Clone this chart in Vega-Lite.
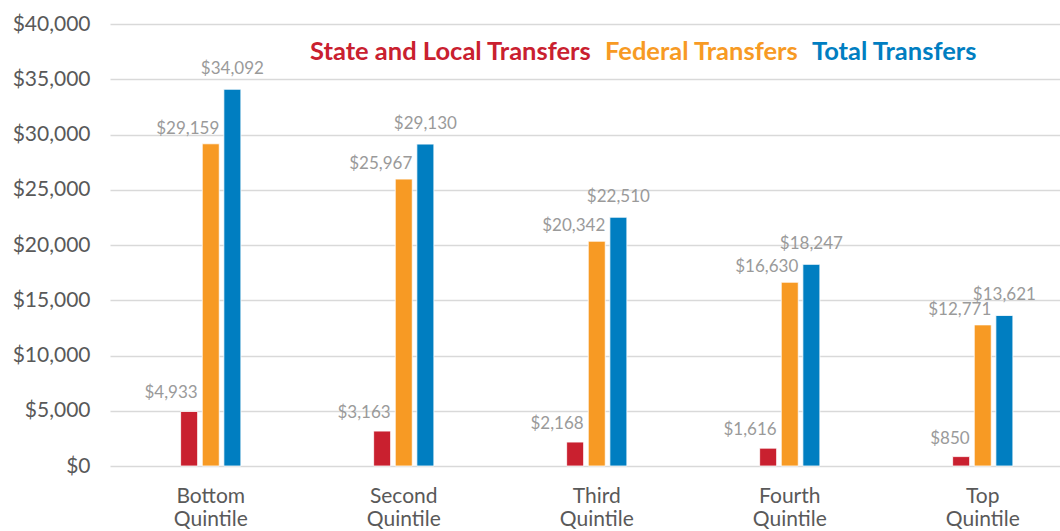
{
  "$schema": "https://vega.github.io/schema/vega-lite/v6.json",
  "width": 950,
  "height": 442,
  "autosize": {"type": "none"},
  "padding": {"left": 110, "top": 24, "right": 0, "bottom": 65},
  "background": "white",
  "config": {"font": "Lato", "view": {"stroke": null}},
  "data": {
    "values": [
      {"quintile": "Bottom Quintile", "series": "State and Local Transfers", "value": 4933},
      {"quintile": "Bottom Quintile", "series": "Federal Transfers", "value": 29159},
      {"quintile": "Bottom Quintile", "series": "Total Transfers", "value": 34092},
      {"quintile": "Second Quintile", "series": "State and Local Transfers", "value": 3163},
      {"quintile": "Second Quintile", "series": "Federal Transfers", "value": 25967},
      {"quintile": "Second Quintile", "series": "Total Transfers", "value": 29130},
      {"quintile": "Third Quintile", "series": "State and Local Transfers", "value": 2168},
      {"quintile": "Third Quintile", "series": "Federal Transfers", "value": 20342},
      {"quintile": "Third Quintile", "series": "Total Transfers", "value": 22510},
      {"quintile": "Fourth Quintile", "series": "State and Local Transfers", "value": 1616},
      {"quintile": "Fourth Quintile", "series": "Federal Transfers", "value": 16630},
      {"quintile": "Fourth Quintile", "series": "Total Transfers", "value": 18247},
      {"quintile": "Top Quintile", "series": "State and Local Transfers", "value": 850},
      {"quintile": "Top Quintile", "series": "Federal Transfers", "value": 12771},
      {"quintile": "Top Quintile", "series": "Total Transfers", "value": 13621}
    ]
  },
  "encoding": {
    "x": {
      "field": "quintile",
      "type": "nominal",
      "sort": ["Bottom Quintile", "Second Quintile", "Third Quintile", "Fourth Quintile", "Top Quintile"],
      "title": null,
      "scale": {"range": [0, 973.5], "paddingInner": 0.664, "paddingOuter": 0.354},
      "axis": {
        "labelAngle": 0,
        "domain": false,
        "ticks": false,
        "labelFont": "Lato",
        "labelFontSize": 21,
        "labelColor": "#595959",
        "labelPadding": 19,
        "labelBaseline": "top",
        "labelLineHeight": 23,
        "labelExpr": "split(datum.label, ' ')"
      }
    },
    "xOffset": {
      "field": "series",
      "type": "nominal",
      "sort": ["State and Local Transfers", "Federal Transfers", "Total Transfers"],
      "scale": {"paddingInner": 0.213, "paddingOuter": 0.1065}
    },
    "y": {
      "field": "value",
      "type": "quantitative",
      "title": null,
      "scale": {"domain": [0, 40000], "nice": false},
      "axis": {
        "values": [0, 5000, 10000, 15000, 20000, 25000, 30000, 35000, 40000],
        "format": "$,.0f",
        "domain": false,
        "ticks": false,
        "labelFont": "Lato",
        "labelFontSize": 21,
        "labelColor": "#595959",
        "labelPadding": 20,
        "gridColor": "#d9d9d9",
        "gridWidth": 1.5
      }
    }
  },
  "layer": [
    {
      "mark": {"type": "bar", "stroke": "white", "strokeWidth": 0.8},
      "encoding": {
        "color": {
          "field": "series",
          "type": "nominal",
          "sort": ["State and Local Transfers", "Federal Transfers", "Total Transfers"],
          "scale": {
            "domain": ["State and Local Transfers", "Federal Transfers", "Total Transfers"],
            "range": ["#C9202F", "#F79A24", "#007EC1"]
          },
          "legend": {
            "title": null,
            "orient": "none",
            "legendX": 200,
            "legendY": 15,
            "direction": "horizontal",
            "symbolSize": 0,
            "symbolOpacity": 0,
            "symbolStrokeWidth": 0,
            "labelOffset": -25.5,
            "columnPadding": 13,
            "labelFont": "Lato",
            "labelFontSize": 25.5,
            "labelFontWeight": "bold",
            "labelLimit": 400,
            "labelColor": {"expr": "datum.value === 'State and Local Transfers' ? '#C9202F' : datum.value === 'Federal Transfers' ? '#F79A24' : '#007EC1'"}
          }
        }
      }
    },
    {
      "transform": [{"filter": "datum.series === 'State and Local Transfers'"}],
      "mark": {"type": "text", "align": "right", "dx": 8.5, "dy": -13, "baseline": "alphabetic", "fontSize": 17, "color": "#9a9a9a", "font": "Lato"},
      "encoding": {
        "text": {"field": "value", "type": "quantitative", "format": "$,.0f"}
      }
    },
    {
      "transform": [{"filter": "datum.series === 'Federal Transfers'"}],
      "mark": {"type": "text", "align": "right", "dx": 8.5, "dy": -10, "baseline": "alphabetic", "fontSize": 17, "color": "#9a9a9a", "font": "Lato"},
      "encoding": {
        "text": {"field": "value", "type": "quantitative", "format": "$,.0f"}
      }
    },
    {
      "transform": [{"filter": "datum.series === 'Total Transfers'"}],
      "mark": {"type": "text", "align": "center", "dy": -15, "baseline": "alphabetic", "fontSize": 17, "color": "#9a9a9a", "font": "Lato"},
      "encoding": {
        "text": {"field": "value", "type": "quantitative", "format": "$,.0f"}
      }
    }
  ]
}
